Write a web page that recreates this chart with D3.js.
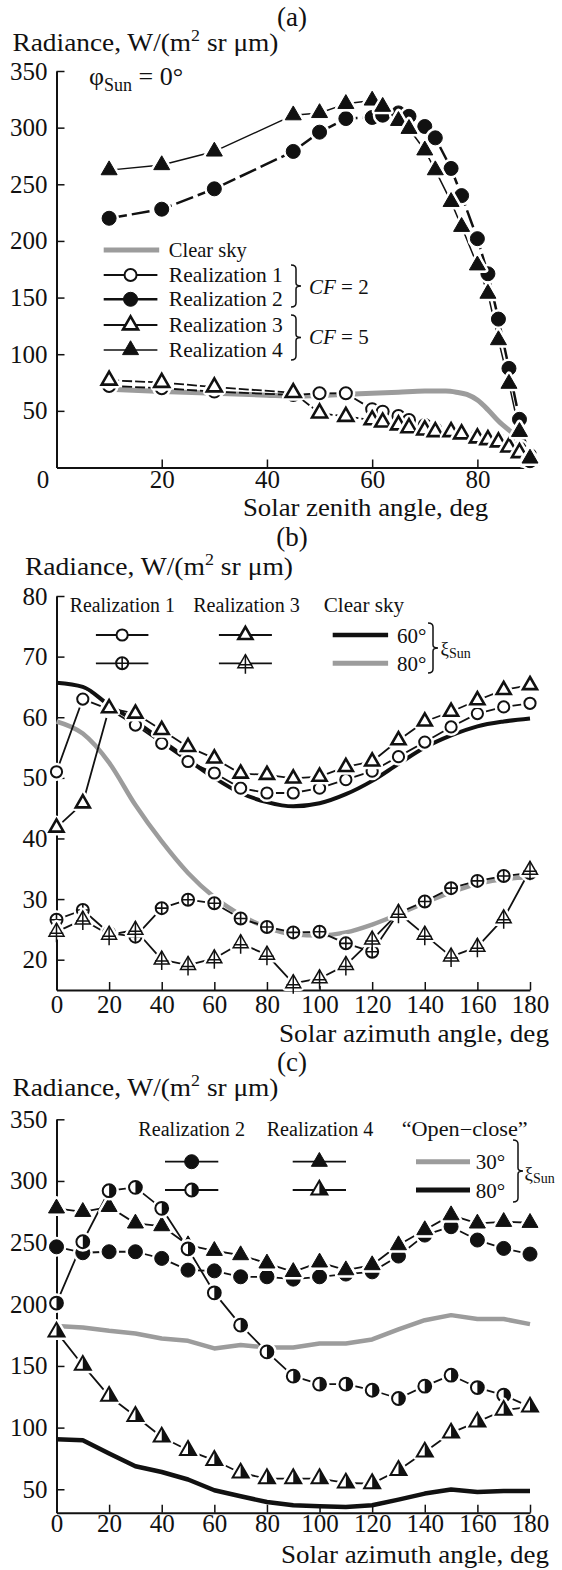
<!DOCTYPE html>
<html>
<head>
<meta charset="utf-8">
<script src="https://d3js.org/d3.v7.min.js"></script>
<style>
 body{margin:0;background:#fff;}
 svg{display:block;font-family:"Liberation Serif","Times New Roman","DejaVu Serif",serif;}
 .axis .domain{stroke:#111;stroke-width:2;}
 .axis line{stroke:#111;stroke-width:1.5;}
 .axis text{font-size:25px;fill:#111;font-family:"Liberation Serif","Times New Roman","DejaVu Serif",serif;}
</style>
</head>
<body>
<script>
// ---- panel (a): radiance vs solar zenith angle
const zenith = [10,20,30,45,50,55,60,62,65,67,70,72,75,77,80,82,84,86,88,90];
const aReal1 = [72,70,67,64,65.5,65.5,51.5,49.3,45.5,42,37.5,34,32,30.5,28,26.5,24.5,21,17,11];
const aReal2 = [220,228,246,279,296,308,309,311,313,310,301,291,264,240,202,171,131,87.5,42.5,6];
const aReal3 = [77,75,71,66,48,45,42,40,37.5,35,33,31.5,31.5,29.5,26,24.5,22.5,18,13,7];
const aReal4 = [262.5,267,279,311,313,321,324,318.5,306,299,280,262.5,234.5,212.5,178.5,153.5,112.5,74,31.5,8];
const zenithClear = [10,20,30,40,45,50,55,60,65,70,74,76,78,80,82,84,86,88,89];
const aClear = [69,67,65.5,63.8,63,63.5,64.5,65.5,66.5,67.5,67.5,66.5,64.5,59.5,51,41,33,26,23];
const aXTicks = [0,20,40,60,80];
const aYTicks = [50,100,150,200,250,300,350];

// ---- panel (b): radiance vs solar azimuth, realizations 1 and 3
const azimuth = [0,10,20,30,40,50,60,70,80,90,100,110,120,130,140,150,160,170,180];
const bReal1At60 = [51,63,61.3,58.7,55.7,52.7,50.8,48.3,47.5,47.5,48.3,49.7,51.1,53.5,55.9,58.4,60.6,61.7,62.3];
const bReal1At80 = [26.6,28.2,24.4,23.8,28.5,29.9,29.3,26.8,25.4,24.5,24.6,22.7,21.3,27.7,29.6,31.8,33,33.8,34.3];
const bReal3At60 = [41.8,45.8,61.5,60.6,57.9,55.1,53.2,50.7,50.5,49.9,50.2,51.8,52.7,56.2,59.3,60.9,62.8,64.5,65.3];
const bReal3At80 = [24.6,26.6,24.1,24.9,20,19.1,20.2,22.7,20.8,16.1,16.9,19.1,23.3,27.7,24.1,20.5,22.1,26.8,34.8];
const bClear60 = [65.7,65,62,59.3,56.2,53,50,47.5,46,45.3,45.8,47.3,49.5,52.3,55,57,58.5,59.3,59.8];
const bClear80 = [59.3,57.3,52.5,45.5,39.5,34.3,30.3,27.4,25.3,24.2,24,24.5,25.8,27.5,29.4,31.1,32.5,33.3,33.6];
const azTicks = [0,20,40,60,80,100,120,140,160,180];
const bYTicks = [20,30,40,50,60,70,80];

// ---- panel (c): realizations 2 and 4, "open-close"
const cReal2At30 = [246.6,241.8,242.6,242.6,237.2,227.7,227.1,222.3,222.3,220.4,222.3,224.5,226.3,239.1,256.1,262.9,252.1,245.3,240.7];
const cReal2At80 = [201,250.7,292.1,294.8,277.8,245,209.3,183.1,161.4,141.7,135.2,135.2,130.3,123.6,133.6,142.5,132.5,126.3,116.8];
const cReal4At30 = [277.8,275,279,265.6,263.4,248,243.4,239.9,233.2,226.3,234,227.7,231.8,248,260.2,272.3,265.6,266.9,266.1];
const cReal4At80 = [177.6,150.6,125.5,109.2,92.4,81.6,73.5,63.2,58.7,58.7,58.7,55.1,54.6,65.4,80.3,95.7,104.6,114.1,116.8];
const cOpen30 = [182.3,181.2,178.5,176.3,172.3,170.4,164.2,166.9,165,165,168.2,168.2,171.5,179.6,187.1,191.2,188,188,183.9];
const cOpen80 = [90.6,89.8,79,68.7,64,57.9,49.2,44.3,39.7,37,36.2,35.6,37,41.6,46.5,49.8,47.8,48.5,48.5];
const cYTicks = [50,100,150,200,250,300,350];

const INK = "#111", GRAY = "#9c9c9c";
const FONT = '"Liberation Serif","Times New Roman","DejaVu Serif",serif';
const svg = d3.select("body").append("svg").attr("width",562).attr("height",1570);
svg.append("rect").attr("width",562).attr("height",1570).attr("fill","#fff");

function triPath(s, half){
  const h = s*Math.sqrt(3)/2, t = -2*h/3, b = h/3;
  return half ? `M0,${t}L${s/2},${b}L0,${b}Z` : `M0,${t}L${s/2},${b}L${-s/2},${b}Z`;
}
function circPath(r, half){
  return half ? `M0,${-r}A${r},${r} 0 0 1 0,${r}Z`
              : `M${-r},0A${r},${r} 0 1 0 ${r},0A${r},${r} 0 1 0 ${-r},0Z`;
}
function drawMarker(g, m, px, py, halo){
  const grp = g.append("g").attr("transform",`translate(${px},${py})`);
  const d = m.shape === "circle" ? circPath(m.r) : triPath(m.s);
  if (halo) grp.append("path").attr("d",d).attr("fill","#fff").attr("stroke","#fff")
     .attr("stroke-width",m.sw+5).attr("stroke-linejoin","round");
  grp.append("path").attr("d",d).attr("fill",m.fill).attr("stroke",INK).attr("stroke-width",m.sw);
  if (m.half) grp.append("path").attr("d", m.shape==="circle" ? circPath(m.r,true) : triPath(m.s,true)).attr("fill",INK);
  if (m.plus && m.shape === "circle")
    grp.append("path").attr("d",`M${-m.r},0H${m.r}M0,${-m.r}V${m.r}`).attr("stroke",INK).attr("stroke-width",1.6);
  if (m.plus && m.shape === "tri"){
    const h = m.s*Math.sqrt(3)/2;
    grp.append("path").attr("d",`M0,${-2*h/3}V${h/3+6}M${-m.s*0.45},${h/3-3}H${m.s*0.45}`)
       .attr("stroke",INK).attr("stroke-width",1.5);
  }
}

function drawPanel(p){
  const x = d3.scaleLinear().domain(p.xDomain).range([56.5,530]);
  const y = d3.scaleLinear().domain(p.yDomain).range(p.yRange);
  const g = svg.append("g");
  const xa = g.append("g").attr("class","axis").attr("transform",`translate(0,${p.yRange[0]})`)
    .call(d3.axisBottom(x).tickValues(p.xTicks).tickSize(-8).tickSizeOuter(0).tickPadding(p.xPad))
    .attr("font-family",FONT).attr("font-size",25);
  g.append("g").attr("class","axis").attr("transform","translate(56.5,0)")
    .call(d3.axisLeft(y).tickValues(p.yTicks).tickSize(-8).tickSizeOuter(0).tickPadding(9))
    .attr("font-family",FONT).attr("font-size",25);
  return {x, y, g, xa};
}
function drawLine(P, xs, vals, st){
  const line = d3.line().x((d,i)=>P.x(xs[i])).y(d=>P.y(d))
    .curve(st.smooth ? d3.curveMonotoneX : d3.curveLinear);
  P.g.append("path").datum(vals).attr("d",line).attr("fill","none")
    .attr("stroke",st.color).attr("stroke-width",st.width)
    .attr("stroke-dasharray",st.dash || null).attr("stroke-linejoin","round");
}
function drawMarks(P, xs, vals, m){
  vals.forEach((v,i)=>drawMarker(P.g, m, P.x(xs[i]), P.y(v), true));
}
function legendItem(x0, x1, yy, st, m){
  svg.append("line").attr("x1",x0).attr("x2",x1).attr("y1",yy).attr("y2",yy)
    .attr("stroke",st.color).attr("stroke-width",st.width);
  if (m) drawMarker(svg, m, (x0+x1)/2, yy, false);
}
function text(x, y, str, size, anchor, len){
  const t = svg.append("text").attr("x",x).attr("y",y).attr("font-size",size).attr("font-family",FONT)
    .attr("fill",INK).attr("text-anchor",anchor || "start").text(str);
  if (len) t.attr("textLength",len).attr("lengthAdjust","spacingAndGlyphs");
  return t;
}
function radianceTitle(x, y, len){
  const t = svg.append("text").attr("x",x).attr("y",y).attr("font-size",26).attr("font-family",FONT)
    .attr("fill",INK).attr("textLength",len).attr("lengthAdjust","spacingAndGlyphs");
  t.append("tspan").text("Radiance, W/(m");
  t.append("tspan").attr("dy",-10).attr("font-size",17).text("2");
  t.append("tspan").attr("dy",10).text(" sr \u03bcm)");
}
function brace(xl, y0, y1){
  const xv = xl+5, xp = xl+10, ym = (y0+y1)/2;
  svg.append("path").attr("d",
    `M${xl},${y0}Q${xv},${y0} ${xv},${y0+4}V${ym-3}Q${xv},${ym} ${xp},${ym}Q${xv},${ym} ${xv},${ym+3}V${y1-4}Q${xv},${y1} ${xl},${y1}`)
    .attr("fill","none").attr("stroke",INK).attr("stroke-width",1.5);
}
function xiSun(x, y){
  const t = svg.append("text").attr("x",x).attr("y",y).attr("font-size",19).attr("font-family",FONT).attr("fill",INK);
  t.append("tspan").text("\u03be");
  t.append("tspan").attr("dy",3).attr("font-size",14).text("Sun");
}

// marker styles
const openCircleA = {shape:"circle", r:6, sw:2, fill:"#fff"};
const fillCircleA = {shape:"circle", r:7, sw:1, fill:INK};
const openTriA = {shape:"tri", s:15, sw:2.6, fill:"#fff"};
const fillTriA = {shape:"tri", s:16, sw:1, fill:INK};
const openCircleB = {shape:"circle", r:5.6, sw:2, fill:"#fff"};
const plusCircleB = {shape:"circle", r:6, sw:2, fill:"#fff", plus:true};
const openTriB = {shape:"tri", s:14, sw:2.6, fill:"#fff"};
const plusTriB = {shape:"tri", s:15, sw:1.5, fill:"#fff", plus:true};
const fillCircleC = {shape:"circle", r:7, sw:1, fill:INK};
const halfCircleC = {shape:"circle", r:6.4, sw:2, fill:"#fff", half:true};
const fillTriC = {shape:"tri", s:16, sw:1, fill:INK};
const halfTriC = {shape:"tri", s:16, sw:2, fill:"#fff", half:true};
const thinLine = {color:INK, width:1.8};

// ================= panel (a)
const A = drawPanel({xDomain:[0,90], yDomain:[0,350], yRange:[467.5,71], xTicks:aXTicks, yTicks:aYTicks, xPad:3});
A.xa.selectAll(".tick text").filter(d=>d===0).attr("x",-14);
drawLine(A, zenithClear, aClear, {color:GRAY, width:5, smooth:true});
drawLine(A, zenith, aReal1, {color:INK, width:1.8, dash:"10,3"});
drawLine(A, zenith, aReal3, {color:INK, width:1.8, dash:"10,3"});
drawLine(A, zenith, aReal2, {color:INK, width:2.5, dash:"18,5"});
drawLine(A, zenith, aReal4, {color:INK, width:1.5});
drawMarks(A, zenith, aReal1, openCircleA);
drawMarks(A, zenith, aReal3, openTriA);
drawMarks(A, zenith, aReal2, fillCircleA);
drawMarks(A, zenith, aReal4, fillTriA);

text(292, 26, "(a)", 27, "middle");
radianceTitle(12.5, 51, 266);
const phi = svg.append("text").attr("x",89).attr("y",85).attr("font-size",26).attr("font-family",FONT).attr("fill",INK);
phi.append("tspan").text("\u03c6");
phi.append("tspan").attr("dy",6).attr("font-size",18).text("Sun");
phi.append("tspan").attr("dy",-6).text(" = 0\u00b0");
text(488, 516, "Solar zenith angle, deg", 25, "end", 245);

legendItem(103.7, 159.2, 250, {color:GRAY, width:5});
legendItem(103.7, 157.4, 275, thinLine, openCircleA);
legendItem(103.7, 157.4, 299.3, {color:INK, width:2.5}, fillCircleA);
legendItem(103.7, 157.4, 325, thinLine, openTriA);
legendItem(103.7, 157.4, 350, {color:INK, width:1.5}, fillTriA);
text(168.8, 257, "Clear sky", 21, "start", 78);
["Realization 1","Realization 2","Realization 3","Realization 4"].forEach((s,i)=>
  text(168.8, [282,306.3,332,357][i], s, 21, "start", 114));
brace(291, 265, 307);
brace(291, 315, 360);
[["2",293.5],["5",344]].forEach(([n,yy])=>{
  const t = svg.append("text").attr("x",309).attr("y",yy).attr("font-size",21).attr("font-family",FONT).attr("fill",INK);
  t.append("tspan").attr("font-style","italic").text("CF");
  t.append("tspan").text(" = " + n);
});

// ================= panel (b)
const B = drawPanel({xDomain:[0,180], yDomain:[15,80], yRange:[990,596], xTicks:azTicks, yTicks:bYTicks, xPad:5});
drawLine(B, azimuth, bClear80, {color:GRAY, width:4.5, smooth:true});
drawLine(B, azimuth, bClear60, {color:INK, width:4, smooth:true});
drawLine(B, azimuth, bReal1At60, thinLine);
drawLine(B, azimuth, bReal3At60, thinLine);
drawLine(B, azimuth, bReal1At80, thinLine);
drawLine(B, azimuth, bReal3At80, thinLine);
drawMarks(B, azimuth, bReal1At60, openCircleB);
drawMarks(B, azimuth, bReal3At60, openTriB);
drawMarks(B, azimuth, bReal1At80, plusCircleB);
drawMarks(B, azimuth, bReal3At80, plusTriB);

text(292, 546, "(b)", 27, "middle");
radianceTitle(25, 574.5, 268);
text(549, 1042, "Solar azimuth angle, deg", 25, "end", 270);
text(69.8, 612, "Realization 1", 20.5, "start", 105);
text(193.2, 612, "Realization 3", 20.5, "start", 106.6);
text(323.7, 612, "Clear sky", 20.5, "start", 80.5);
legendItem(95.9, 148.4, 635, thinLine, openCircleB);
legendItem(95.9, 148.4, 663.3, thinLine, plusCircleB);
legendItem(218.9, 271.9, 635, thinLine, openTriB);
legendItem(218.9, 271.9, 663.3, thinLine, plusTriB);
legendItem(332.7, 388.1, 635, {color:INK, width:4.5});
legendItem(332.7, 388.1, 663.3, {color:GRAY, width:5});
text(397, 642.5, "60\u00b0", 21);
text(397, 670.5, "80\u00b0", 21);
brace(428, 623, 673);
xiSun(440.5, 655);

// ================= panel (c)
const C = drawPanel({xDomain:[0,180], yDomain:[31,350], yRange:[1512.7,1119.3], xTicks:azTicks, yTicks:cYTicks, xPad:2});
drawLine(C, azimuth, cOpen30, {color:GRAY, width:4.5});
drawLine(C, azimuth, cOpen80, {color:INK, width:4.5});
drawLine(C, azimuth, cReal2At30, thinLine);
drawLine(C, azimuth, cReal4At30, thinLine);
drawLine(C, azimuth, cReal2At80, thinLine);
drawLine(C, azimuth, cReal4At80, thinLine);
drawMarks(C, azimuth, cReal2At30, fillCircleC);
drawMarks(C, azimuth, cReal4At30, fillTriC);
drawMarks(C, azimuth, cReal2At80, halfCircleC);
drawMarks(C, azimuth, cReal4At80, halfTriC);

text(292, 1071, "(c)", 27, "middle");
radianceTitle(12.5, 1096, 266);
text(549, 1563, "Solar azimuth angle, deg", 25, "end", 268);
text(138.3, 1136, "Realization 2", 20.5, "start", 106.7);
text(266.7, 1136, "Realization 4", 20.5, "start", 106.7);
text(401.7, 1136, "\u201cOpen\u2212close\u201d", 20.5, "start", 126);
legendItem(165, 218.3, 1161.7, thinLine, fillCircleC);
legendItem(165, 218.3, 1190, thinLine, halfCircleC);
legendItem(292.7, 346, 1161.7, thinLine, fillTriC);
legendItem(292.7, 346, 1190, thinLine, halfTriC);
legendItem(416, 470, 1161.7, {color:GRAY, width:5});
legendItem(416, 470, 1190, {color:INK, width:5});
text(475.7, 1169, "30\u00b0", 21);
text(475.7, 1197.5, "80\u00b0", 21);
brace(513, 1140, 1202);
xiSun(524.5, 1180);
</script>
</body>
</html>
